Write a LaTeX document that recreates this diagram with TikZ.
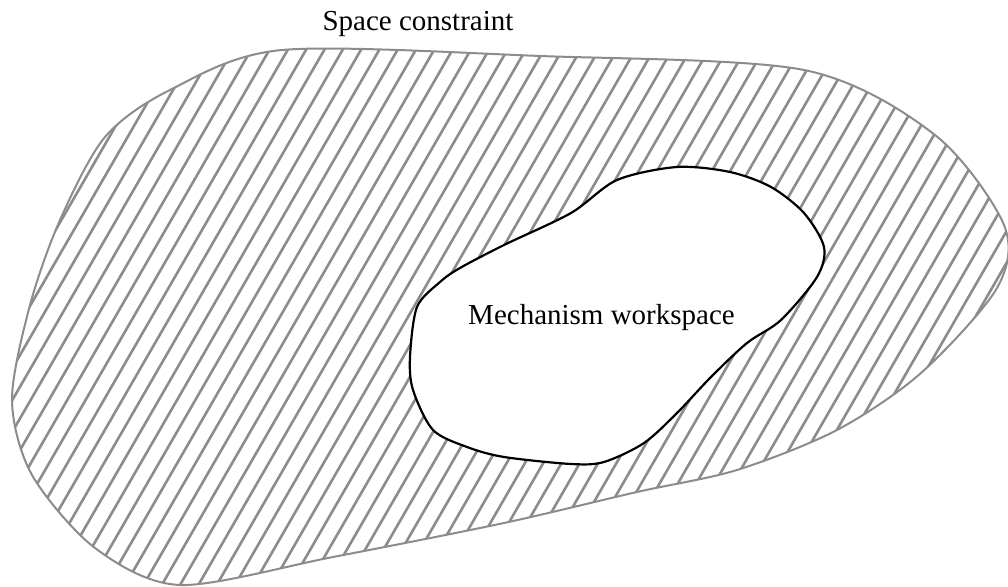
\documentclass[tikz,border=0pt]{standalone}
\usepackage{fontspec}
\setmainfont{Liberation Serif}
\usetikzlibrary{positioning}

\newcommand\outerblob{plot[smooth cycle] coordinates {(282,50) (540,56) (804,70) (935,135) (1004,225) (997,288) (921,373) (837,430) (737,470) (637,492) (504,523) (333,557) (180,585) (95,548) (32,475) (12,400) (30,305) (60,220) (105,137) (170,90)}}
\newcommand\innerblob{plot[smooth cycle] coordinates {(504,245) (571,213) (617,180) (677,167) (730,172) (771,187) (804,213) (824,247) (817,277) (781,320) (747,343) (711,377) (677,413) (644,443) (604,462) (571,464) (504,457) (467,447) (433,430) (413,390) (410,357) (417,307) (440,282) (460,268)}}

\begin{document}
\begin{tikzpicture}[x=0.5pt,y=-0.5pt,
    hatchline/.style={black!45,line width=1.3pt},
    txt/.style={font=\fontsize{14.5}{17}\selectfont,inner sep=0pt,anchor=base}]
    \useasboundingbox (0,0) rectangle (1008,587);

    % space constraint
    \begin{scope}
        \clip \outerblob;
        \foreach \k in {0,...,75}
            \draw[hatchline] (5.4+18.3*\k,0) -- ++(-346.4,600);
    \end{scope}
    \draw[black!45,line width=1pt] \outerblob;

    % mechanism workspace
    \filldraw[fill=white,line width=1.1pt] \innerblob;

    \node[txt] (space) at (418,31) {Space constraint};
    \node[txt] (mech) at (601.5,325) {Mechanism workspace};
\end{tikzpicture}
\end{document}
